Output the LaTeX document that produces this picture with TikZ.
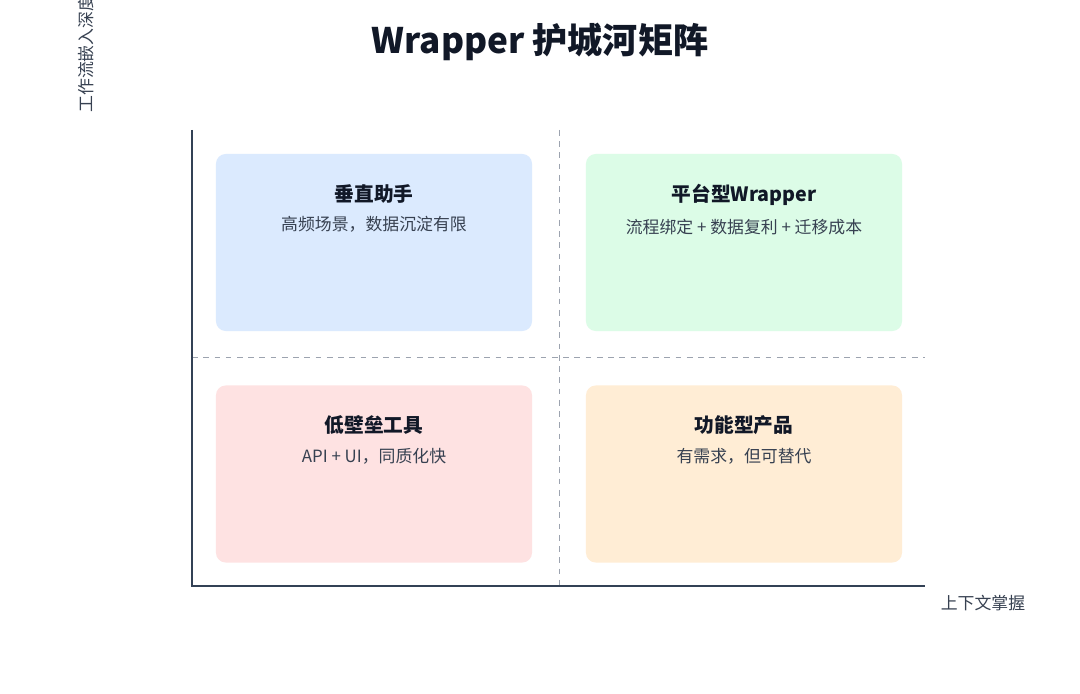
\documentclass[tikz,border=0pt]{standalone}
\usepackage{fontspec}
\setmainfont{Noto Sans CJK SC}
\usetikzlibrary{positioning}

\definecolor{axisgray}{HTML}{334155}
\definecolor{gridgray}{HTML}{9CA3AF}
\definecolor{titleink}{HTML}{111827}
\definecolor{subink}{HTML}{374151}
\definecolor{blueq}{HTML}{DBEAFE}
\definecolor{greenq}{HTML}{DCFCE7}
\definecolor{redq}{HTML}{FEE2E2}
\definecolor{orangeq}{HTML}{FFEDD5}

\begin{document}
\begin{tikzpicture}[
    x=0.025cm, y=-0.025cm,
    quad/.style={rectangle, rounded corners=7pt, minimum width=7.9cm,
                 minimum height=4.425cm, inner sep=0pt, draw=none},
    quadtitle/.style={font=\fontsize{14}{16}\selectfont\bfseries, text=titleink},
    quadsub/.style={font=\fontsize{12}{14}\selectfont, text=subink},
    axislab/.style={font=\fontsize{12}{14}\selectfont, text=subink},
    axis/.style={draw=axisgray, line width=1.6pt},
    grid/.style={draw=gridgray, dash pattern=on 4pt off 4pt, line width=0.6pt}
  ]

  % Canvas
  \useasboundingbox[fill=white] (0,0) rectangle (1080,694);

  % Title
  \node[font=\fontsize{25}{30}\selectfont\bfseries, text=titleink] (title) at (540,42) {Wrapper 护城河矩阵};

  % Axis corners
  \coordinate (ytop) at (192,130);
  \coordinate (origin) at (192,586);
  \coordinate (xend) at (925,586);

  % Quadrant separators
  \coordinate (vtop) at (559,130);
  \coordinate (vbot) at (559,586);
  \coordinate (hleft) at (192,357);
  \coordinate (hright) at (925,357);
  \draw[grid] (vtop) -- (vbot);
  \draw[grid] (hleft) -- (hright);

  % Quadrant boxes
  \node[quad, fill=blueq]   (vert) at (374,242.5) {};
  \node[quad, fill=greenq]  (plat) at (744,242.5) {};
  \node[quad, fill=redq]    (low)  at (374,474)   {};
  \node[quad, fill=orangeq] (func) at (744,474)   {};

  % Quadrant texts
  \node[quadtitle, below=0.64cm of vert.north] (vertT) {垂直助手};
  \node[quadsub, below=0.08cm of vertT] {高频场景，数据沉淀有限};

  \node[quadtitle, below=0.64cm of plat.north] (platT) {平台型Wrapper};
  \node[quadsub, below=0.08cm of platT] {流程绑定 + 数据复利 + 迁移成本};

  \node[quadtitle, below=0.64cm of low.north] (lowT) {低壁垒工具};
  \node[quadsub, below=0.08cm of lowT] {API + UI，同质化快};

  \node[quadtitle, below=0.64cm of func.north] (funcT) {功能型产品};
  \node[quadsub, below=0.08cm of funcT] {有需求，但可替代};

  % Axes
  \draw[axis] (ytop) -- (origin) -- (xend);

  % Axis labels
  \node[axislab, rotate=90, anchor=south west, inner sep=0pt] (ylab) at (94,113) {工作流嵌入深度};
  \node[axislab] (xlab) at (983,603) {上下文掌握};

\end{tikzpicture}
\end{document}
